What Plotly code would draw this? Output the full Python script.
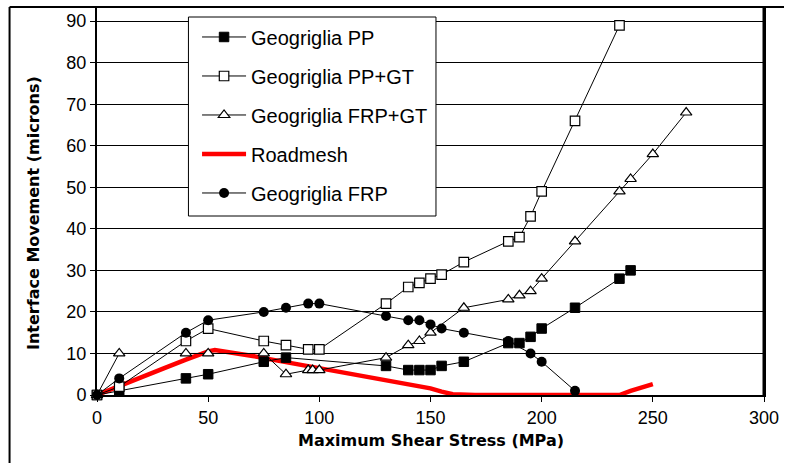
import plotly.graph_objects as go

# Maximum shear stress (MPa) and interface movement (microns) per reinforcement
stress_pp = [0, 10, 40, 50, 75, 85, 130, 140, 145, 150, 155, 165, 185, 190, 195, 200, 215, 235, 240]
move_pp = [0, 1, 4, 5, 8, 9, 7, 6, 6, 6, 7, 8, 12.5, 12.5, 14, 16, 21, 28, 30]

stress_pp_gt = [0, 10, 40, 50, 75, 85, 95, 100, 130, 140, 145, 150, 155, 165, 185, 190, 195, 200, 215, 235]
move_pp_gt = [0, 2, 13, 16, 13, 12, 11, 11, 22, 26, 27, 28, 29, 32, 37, 38, 43, 49, 66, 89]

stress_frp_gt = [0, 10, 40, 50, 75, 85, 95, 97, 100, 130, 140, 145, 150, 165, 185, 190, 195, 200, 215, 235, 240, 250, 265]
move_frp_gt = [0, 10, 10, 10, 10, 5, 6, 6, 6, 9, 12, 13, 15, 21, 23, 24, 25, 28, 37, 49, 52, 58, 68]

stress_road = [0, 10, 20, 30, 40, 50, 53, 60, 70, 80, 90, 100, 110, 120, 130, 140, 150, 155, 160, 170, 200, 235, 240, 245, 250]
move_road = [0, 2.2, 4.3, 6.4, 8.5, 10.5, 10.8, 10.3, 9.4, 8.4, 7.4, 6.5, 5.5, 4.5, 3.6, 2.6, 1.6, 0.8, 0.2, 0, 0, 0, 1, 1.8, 2.6]

stress_frp = [0, 10, 40, 50, 75, 85, 95, 100, 130, 140, 145, 150, 155, 165, 185, 195, 200, 215]
move_frp = [0, 4, 15, 18, 20, 21, 22, 22, 19, 18, 18, 17, 16, 15, 13, 10, 8, 1]

x_ticks = [0, 50, 100, 150, 200, 250, 300]
y_ticks = [0, 10, 20, 30, 40, 50, 60, 70, 80, 90]

LEGEND_FONT = dict(family="Liberation Sans, Arial", size=20, color="black")
TICK_FONT = dict(family="Liberation Sans, Arial", size=18, color="black")
TITLE_FONT = dict(family="DejaVu Sans", size=16, color="black", weight="bold")

fig = go.Figure()

# red thick line first so the marker series sit on top of it
fig.add_trace(go.Scatter(
    x=stress_road, y=move_road, name="Roadmesh", mode="lines",
    line=dict(color="#ff0000", width=4.5), legendrank=4, legendgroup="d",
    cliponaxis=False))

fig.add_trace(go.Scatter(
    x=stress_pp, y=move_pp, name="Geogriglia PP", mode="lines+markers",
    line=dict(color="black", width=1),
    marker=dict(symbol="square", size=9.5, color="black", line=dict(color="black", width=1)),
    legendrank=1, legendgroup="a", cliponaxis=False))

fig.add_trace(go.Scatter(
    x=stress_pp_gt, y=move_pp_gt, name="Geogriglia PP+GT", mode="lines+markers",
    line=dict(color="black", width=1),
    marker=dict(symbol="square", size=9.5, color="white", line=dict(color="black", width=1.2)),
    legendrank=2, legendgroup="b", cliponaxis=False))

fig.add_trace(go.Scatter(
    x=stress_frp_gt, y=move_frp_gt, name="Geogriglia FRP+GT", mode="lines+markers",
    line=dict(color="black", width=1),
    marker=dict(symbol="triangle-up", size=10, color="white", line=dict(color="black", width=1.2)),
    legendrank=3, legendgroup="c", cliponaxis=False))

fig.add_trace(go.Scatter(
    x=stress_frp, y=move_frp, name="Geogriglia FRP", mode="lines+markers",
    line=dict(color="black", width=1),
    marker=dict(symbol="circle", size=10, color="black"),
    legendrank=5, legendgroup="e", cliponaxis=False))

shapes = [
    # outer chart frame (top and left edges)
    dict(type="line", xref="paper", yref="paper", x0=-0.1311, x1=1.03, y0=1, y1=1,
         line=dict(color="black", width=2)),
    dict(type="line", xref="paper", yref="paper", x0=-0.1311, x1=-0.1311, y0=1, y1=-0.2,
         line=dict(color="black", width=2)),
    # thicker right edge of the plotting area
    dict(type="line", xref="paper", yref="paper", x0=1, x1=1, y0=0, y1=1,
         line=dict(color="black", width=3)),
    # legend box
    dict(type="rect", xref="paper", yref="paper", x0=0.1371, x1=0.5082, y0=0.4613, y1=0.9742,
         fillcolor="white", line=dict(color="black", width=1), layer="above"),
]

annotations = [
    dict(text="Maximum Shear Stress (MPa)", xref="paper", yref="paper", x=0.5, y=-0.117,
         xanchor="center", yanchor="middle", showarrow=False, font=TITLE_FONT),
    dict(text="Interface Movement (microns)", xref="paper", yref="paper", x=-0.0954, y=0.47,
         xanchor="center", yanchor="middle", showarrow=False, textangle=-90, font=TITLE_FONT),
]

fig.update_layout(
    width=786, height=463,
    margin=dict(l=97, r=18, t=7, b=68),
    paper_bgcolor="white", plot_bgcolor="white",
    showlegend=True,
    legend=dict(x=0.15, y=0.973, xanchor="left", yanchor="top",
                bgcolor="rgba(0,0,0,0)", borderwidth=0, font=LEGEND_FONT,
                tracegroupgap=10, itemwidth=44, traceorder="grouped"),
    shapes=shapes, annotations=annotations,
    xaxis=dict(range=[0, 300], tickvals=x_ticks, ticks="outside", ticklen=5, tickcolor="black",
               tickwidth=1, showgrid=False, zeroline=False, showline=True, linecolor="black",
               linewidth=2, tickfont=TICK_FONT),
    yaxis=dict(range=[0, 93.4], tickvals=y_ticks, ticks="outside", ticklen=5, tickcolor="black",
               tickwidth=1, showgrid=True, gridcolor="black", gridwidth=1, zeroline=False,
               showline=True, linecolor="black", linewidth=2, mirror=True, tickfont=TICK_FONT),
)

fig.write_html("out.html")
